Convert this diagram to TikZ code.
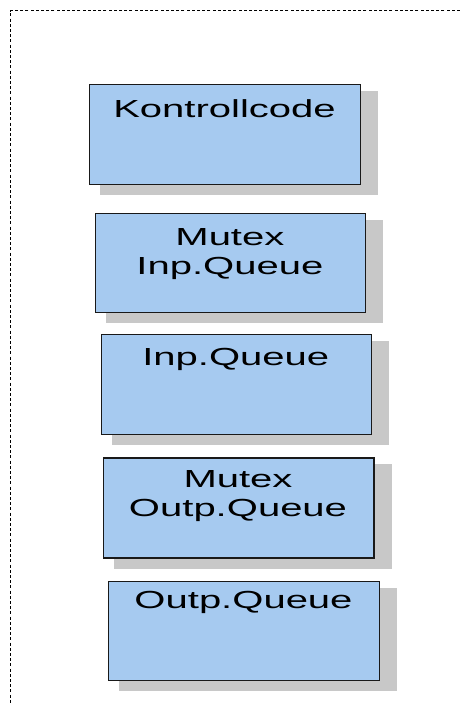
\documentclass[tikz,border=0pt]{standalone}
\usepackage{fontspec}
\usetikzlibrary{backgrounds}
\newfontfamily\boxfont[FakeStretch=1.62]{Liberation Sans}
\definecolor{boxfill}{HTML}{A6CAF0}
\definecolor{shadegray}{HTML}{C8C8C8}
\tikzset{
  stackbox/.style={draw=black!90, line width=1.2pt, fill=boxfill, anchor=north west,
    inner sep=0pt, minimum width=#1},
  stackbox/.default=271pt,
  boxlabel/.style={anchor=base, inner sep=0pt, font=\boxfont\fontsize{24.7}{28.5}\selectfont},
  frame/.style={line width=0.9pt, dash pattern=on 3pt off 2.2pt},
}
\newcommand\boxshadow[1]{%
  \begin{pgfonlayer}{background}
    \fill[shadegray] ([shift={(11pt,-7pt)}]#1.north west) rectangle ([shift={(17pt,-10pt)}]#1.south east);
  \end{pgfonlayer}}
\begin{document}
\begin{tikzpicture}[x=1pt,y=-1pt]
\useasboundingbox (0,0) rectangle (460,704);
% dashed enclosing frame (top and left edges)
\coordinate (fr) at (10.5,10.5);
\draw[frame] (460,10.5) -- (fr) -- (10.5,704);

% control code
\node[stackbox=271pt, minimum height=100pt] (kc) at (89,84) {};
\boxshadow{kc}
\node[boxlabel] (kct) at (224.5,117.3) {Kontrollcode};

% mutex of input queue
\node[stackbox=270.5pt, minimum height=99pt] (mi) at (94.7,212.7) {};
\boxshadow{mi}
\node[boxlabel] (mit1) at (229.9,245.7) {Mutex};
\node[boxlabel] (mit2) at (229.9,274) {Inp.Queue};

% input queue
\node[stackbox=270pt, minimum height=100pt] (iq) at (100.7,334) {};
\boxshadow{iq}
\node[boxlabel] (iqt) at (235.7,365) {Inp.Queue};

% mutex of output queue
\node[stackbox=270.6pt, minimum height=100pt] (mo) at (102.7,457.3) {};
\boxshadow{mo}
\node[boxlabel] (mot1) at (238,487.3) {Mutex};
\node[boxlabel] (mot2) at (238,516.7) {Outp.Queue};

% output queue
\node[stackbox=271pt, minimum height=99pt] (oq) at (108,581) {};
\boxshadow{oq}
\node[boxlabel] (oqt) at (243.5,608) {Outp.Queue};
\end{tikzpicture}
\end{document}
